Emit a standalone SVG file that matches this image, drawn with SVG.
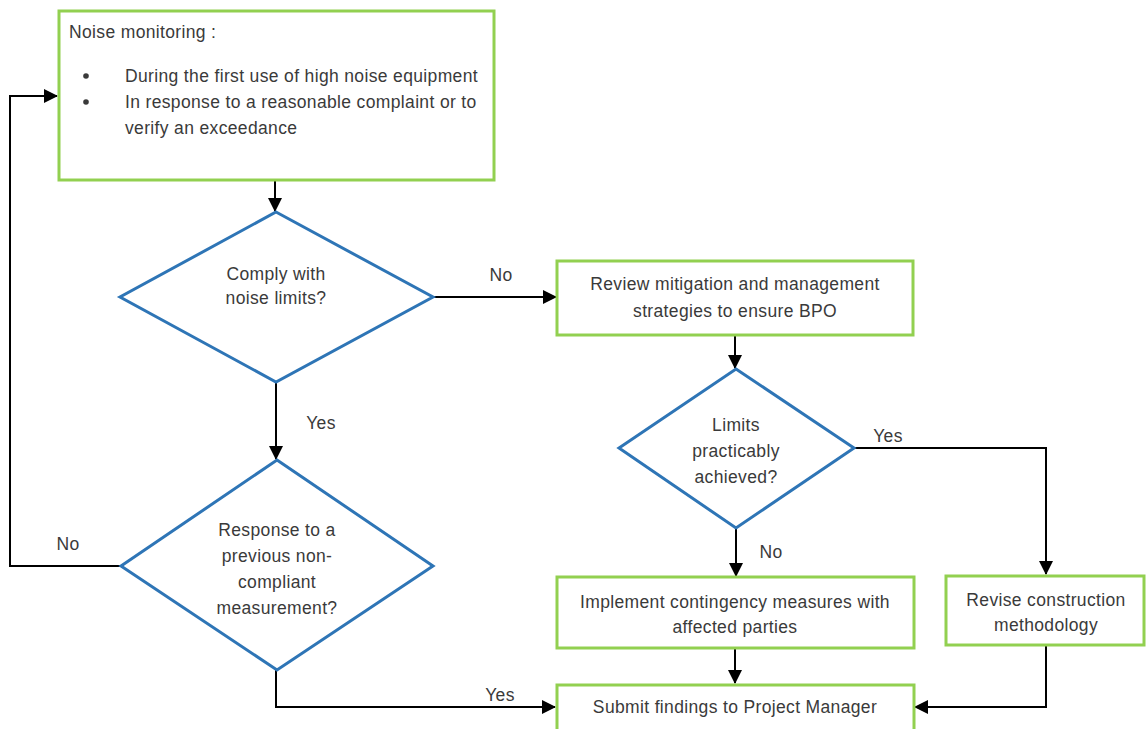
<svg xmlns="http://www.w3.org/2000/svg" width="1146" height="729" viewBox="0 0 1146 729">
<defs>
<marker id="ah" markerUnits="userSpaceOnUse" markerWidth="14" markerHeight="14" viewBox="0 0 14 14" refX="13" refY="7" orient="auto">
<path d="M0,0 L14,7 L0,14 Z" fill="#000"/>
</marker>
<style>
.box{fill:#fff;stroke:#92d050;stroke-width:3}
.dia{fill:#fff;stroke:#2e75b6;stroke-width:3}
.t{font-family:"Liberation Sans",Arial,sans-serif;font-size:17.5px;letter-spacing:0.35px;fill:#3a3a3a}
.c{text-anchor:middle}
.ln{fill:none;stroke:#000;stroke-width:2;marker-end:url(#ah)}
</style>
</defs>
<rect width="1146" height="729" fill="#fff"/>
<g id="connectors">
<path class="ln" d="M275,180 V211"/>
<path class="ln" d="M433,297 H556"/>
<path class="ln" d="M276,382 V459"/>
<path class="ln" d="M121,566 H10 V96 H57"/>
<path class="ln" d="M276,670 V707 H555"/>
<path class="ln" d="M735,335 V368"/>
<path class="ln" d="M854,448 H1046 V574"/>
<path class="ln" d="M736,528 V576"/>
<path class="ln" d="M735,648 V683"/>
<path class="ln" d="M1046,645 V707 H915"/>
<text class="t c" x="501" y="281">No</text>
<text class="t c" x="321" y="429">Yes</text>
<text class="t c" x="888" y="442">Yes</text>
<text class="t c" x="771" y="558">No</text>
<text class="t c" x="68" y="550">No</text>
<text class="t c" x="500" y="701">Yes</text>
</g>
<g id="monitoring">
<rect class="box" x="59" y="11" width="435" height="169"/>
<text class="t" x="69" y="38">Noise monitoring :</text>
<circle cx="86" cy="76" r="2.8" fill="#3a3a3a"/>
<circle cx="86" cy="102" r="2.8" fill="#3a3a3a"/>
<text class="t" x="125" y="82">During the first use of high noise equipment</text>
<text class="t" x="125" y="108">In response to a reasonable complaint or to</text>
<text class="t" x="125" y="134">verify an exceedance</text>
</g>
<g id="comply">
<polygon class="dia" points="276,212 433,297 276,382 120,297"/>
<text class="t c" x="276" y="280">Comply with</text>
<text class="t c" x="276" y="304">noise limits?</text>
</g>
<g id="review">
<rect class="box" x="557" y="261" width="356" height="74"/>
<text class="t c" x="735" y="290">Review mitigation and management</text>
<text class="t c" x="735" y="317">strategies to ensure BPO</text>
</g>
<g id="limits">
<polygon class="dia" points="736,369 854,448 736,528 619,448"/>
<text class="t c" x="736" y="431">Limits</text>
<text class="t c" x="736" y="457">practicably</text>
<text class="t c" x="736" y="483">achieved?</text>
</g>
<g id="previous">
<polygon class="dia" points="277,460 433,566 277,670 121,566"/>
<text class="t c" x="277" y="536">Response to a</text>
<text class="t c" x="277" y="562">previous non-</text>
<text class="t c" x="277" y="588">compliant</text>
<text class="t c" x="277" y="614">measurement?</text>
</g>
<g id="implement">
<rect class="box" x="557" y="577" width="357" height="71"/>
<text class="t c" x="735" y="608">Implement contingency measures with</text>
<text class="t c" x="735" y="633">affected parties</text>
</g>
<g id="revise">
<rect class="box" x="946" y="576" width="198" height="69"/>
<text class="t c" x="1046" y="606">Revise construction</text>
<text class="t c" x="1046" y="631">methodology</text>
</g>
<g id="submit">
<rect class="box" x="557" y="685" width="357" height="50"/>
<text class="t c" x="735" y="713">Submit findings to Project Manager</text>
</g>
</svg>
